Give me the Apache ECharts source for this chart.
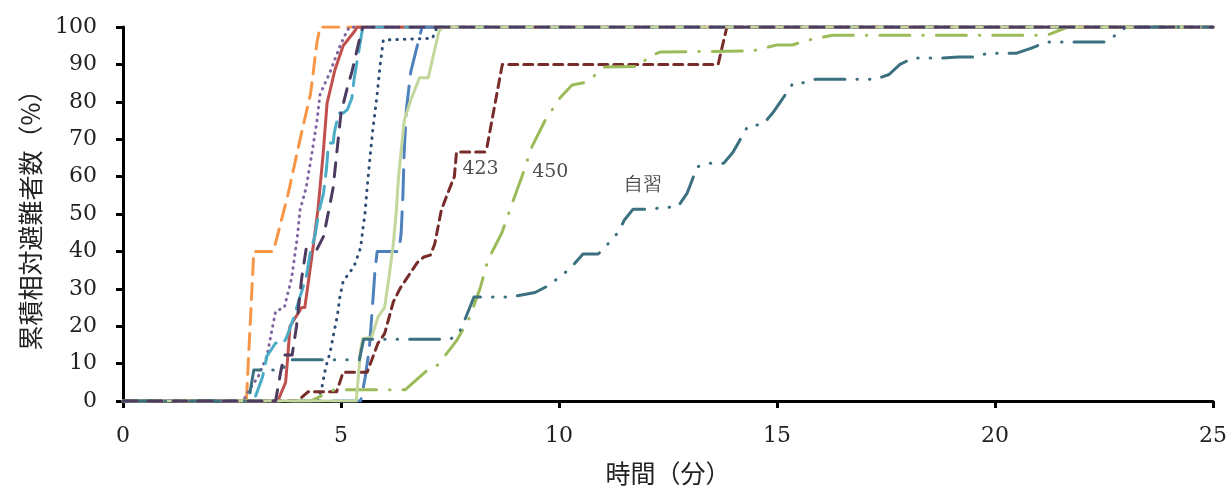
<!DOCTYPE html>
<html><head><meta charset="utf-8">
<script src="https://cdn.jsdelivr.net/npm/echarts@6/dist/echarts.min.js"></script>
<style>html,body{margin:0;padding:0;background:#fff}#c{width:1232px;height:491px}</style>
</head><body><div id="c"></div>
<script>
// [time (min), cumulative %]
const sOrange = [[0,0],[2.83,0],[3.0,40],[3.45,40],[3.78,55],[4.1,72],[4.3,82],[4.45,96],[4.52,100],[25,100]];
const sPurple = [[0,0],[2.75,0],[2.9,3],[3.1,6.5],[3.3,12],[3.45,21],[3.5,24],[3.7,25],[3.87,33],[4.0,44],[4.06,51],[4.2,57],[4.33,66],[4.45,75],[4.52,82],[4.75,88],[4.98,95],[5.14,99],[5.2,100],[25,100]];
const sRed = [[0,0],[3.55,0],[3.73,5],[3.78,12],[3.83,20],[4.1,25],[4.17,25],[4.33,38.5],[4.47,51],[4.59,66],[4.68,79.6],[4.86,88.5],[5.05,95],[5.32,99],[5.37,100],[25,100]];
const sCyan = [[0,0],[3.0,0],[3.2,6.4],[3.3,12],[3.5,15.5],[3.68,15.5],[3.75,17],[3.9,21.7],[4.05,27.5],[4.2,33],[4.3,40],[4.4,44],[4.5,51],[4.6,55.6],[4.67,62.5],[4.7,67],[4.75,69],[4.82,69],[4.85,72],[4.95,77],[5.05,77],[5.15,78],[5.25,81],[5.3,86],[5.4,93],[5.5,100],[25,100]];
const sDarkPurple = [[0,0],[3.5,0],[3.62,8],[3.7,12.3],[3.88,12.3],[3.98,20],[4.1,33],[4.2,40.6],[4.45,40.6],[4.6,44],[4.72,51],[4.82,57],[4.9,66],[5.0,77],[5.15,84],[5.25,88],[5.35,93],[5.45,98],[5.5,100],[25,100]];
const sNavyDot = [[0,0],[4.45,0],[4.55,3],[4.65,9],[4.75,13],[4.85,19],[4.92,23],[4.97,27.5],[5.05,32],[5.3,36],[5.45,41],[5.52,47.6],[5.55,50],[5.6,57],[5.66,64.5],[5.73,72.5],[5.82,81],[5.9,90],[5.97,96.5],[7.1,97],[7.2,100],[25,100]];
const sBlue = [[0,0],[5.45,0],[5.55,6],[5.65,14],[5.72,25],[5.78,35],[5.83,40],[6.33,40],[6.38,45],[6.42,55],[6.45,67],[6.5,78],[6.6,88],[6.75,95],[6.86,100],[25,100]];
const sLightGreen = [[0,0],[5.35,0],[5.45,13.6],[5.5,16.7],[5.7,17],[5.85,22.5],[6.0,25],[6.1,33],[6.2,42],[6.27,51],[6.32,60],[6.45,75],[6.6,80.5],[6.8,86.4],[7.0,86.4],[7.25,99],[7.35,100],[25,100]];
const s423 = [[0,0],[4.0,0],[4.25,2.5],[4.9,2.5],[5.05,7.7],[5.6,7.7],[5.85,15.5],[6.0,18],[6.2,26.5],[6.35,30],[6.75,37],[6.9,38.5],[7.05,39],[7.15,42],[7.3,51],[7.45,55.6],[7.6,60],[7.65,66.6],[8.3,66.6],[8.35,68],[8.7,90],[13.65,90],[13.85,100],[25,100]];
const s450 = [[0,0],[4.3,0],[4.85,3],[6.47,3],[7.05,9],[7.22,9.6],[7.66,16.3],[7.96,22.5],[8.2,30.5],[8.37,37.7],[8.69,45],[8.9,52],[9.15,60],[9.38,68],[9.68,75],[10.02,81],[10.3,84.5],[10.64,85.3],[11.05,89.3],[11.86,89.5],[12.04,92],[12.32,93.3],[14.43,93.6],[15.0,95.2],[15.35,95.2],[15.71,96.5],[16.28,97.8],[21.19,97.8],[21.67,100],[25,100]];
const sSelf = [[0,0],[2.88,0],[3.0,8.3],[3.65,8.3],[3.8,11],[5.42,11],[5.52,16.5],[7.5,16.5],[7.7,18],[7.85,22],[8.05,27.8],[8.9,27.8],[9.45,29],[9.7,30.5],[10.05,33.4],[10.3,36],[10.55,39.3],[10.9,39.3],[11.1,41.7],[11.35,45],[11.5,48.4],[11.7,51.3],[12.04,51.3],[12.73,52],[12.94,55.6],[13.17,62.6],[13.42,63.6],[13.78,63.6],[13.99,66.5],[14.33,73.5],[14.68,74],[14.9,77],[15.11,80.5],[15.37,85],[15.57,85],[15.87,86],[17.25,86],[17.57,87.3],[17.82,90],[18.12,91.7],[18.8,91.7],[19.17,92],[19.54,92],[19.84,93],[20.5,93],[20.85,94.4],[21.17,96],[22.55,96],[22.84,98.5],[23.0,100],[25,100]];

const xTicks = [0,5,10,15,20,25];
const yTicks = [0,10,20,30,40,50,60,70,80,90,100];
const labels = [{text:'423', x:8.2, y:62}, {text:'450', x:9.8, y:61.2}, {text:'自習', x:11.93, y:57.8}];

const serif = '"DejaVu Serif", "Liberation Serif", serif';
const cjk = '"Noto Sans CJK JP", "Noto Sans", sans-serif';

function mk(data, color, type, width) {
  return {type:'line', data, symbol:'none', silent:true, animation:false,
    lineStyle:{color, width: width||3, type: type||'solid', cap:'round', join:'round'}};
}
const series = [
  mk(sOrange, '#F79646', [16,9]),
  mk(sPurple, '#8064A2', [0.5,6]),
  mk(sRed, '#C0504D', 'solid'),
  mk(sCyan, '#4BACC6', [24,10]),
  mk(sBlue, '#4F81BD', [30,12]),
  mk(sNavyDot, '#2C4D75', [0.5,7]),
  mk(s423, '#772C2A', [9,6]),
  mk(s450, '#9BBB59', [30,13,0.5,13]),
  mk(sLightGreen, '#C3D69B', 'solid'),
  mk(sSelf, '#3B7080', [30,12,0.5,12,0.5,12]),
  mk(sDarkPurple, '#4D3B62', [14,11]),
];
series.push({type:'scatter', data: labels.map(l=>[l.x,l.y,l.text]), symbolSize:0, silent:true, animation:false,
  label:{show:true, position:'inside', formatter:p=>p.data[2], color:'#222', fontSize:19,
    fontFamily: serif}});

const chart = echarts.init(document.getElementById('c'), null, {renderer:'canvas'});
chart.setOption({
  backgroundColor:'#fff',
  grid:{left:123, right:19, top:27, bottom:90, containLabel:false},
  xAxis:{type:'value', min:0, max:25, interval:5,
    name:'時間（分）', nameLocation:'middle', nameGap:60,
    nameTextStyle:{fontFamily:cjk, fontSize:25, color:'#222'},
    axisLine:{show:true, onZero:false, lineStyle:{color:'#000', width:3}},
    axisTick:{show:true, length:7, lineStyle:{color:'#000', width:3}},
    axisLabel:{fontFamily:serif, fontSize:22, color:'#222', margin:24},
    splitLine:{show:false}},
  yAxis:{type:'value', min:0, max:100, interval:10,
    name:'累積相対避難者数（%）', nameLocation:'middle', nameGap:80, nameRotate:90,
    nameTextStyle:{fontFamily:cjk, fontSize:25, color:'#222'},
    axisLine:{show:true, lineStyle:{color:'#000', width:3}},
    axisTick:{show:true, length:7, lineStyle:{color:'#000', width:3}},
    axisLabel:{fontFamily:serif, fontSize:22, color:'#222', margin:26},
    splitLine:{show:false}},
  series
});
</script></body></html>
